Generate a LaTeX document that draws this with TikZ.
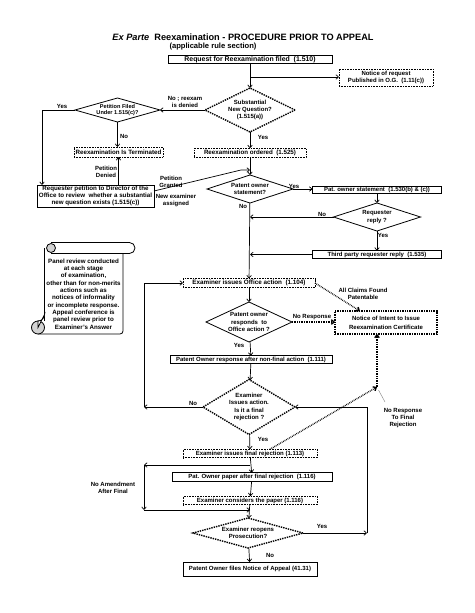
\documentclass[tikz,border=0pt]{standalone}
\usepackage{fontspec}
\setmainfont{Liberation Sans}
\usetikzlibrary{shapes.geometric,arrows.meta,calc}
\newcommand\fsz[2]{\fontsize{#1}{#2}\selectfont\bfseries}
\begin{document}
\begin{tikzpicture}[x=1pt,y=-1pt,
  lab/.style={font=\fsz{6}{7.2}, align=center, inner sep=0pt, outer sep=0pt},
  solidbox/.style={lab, draw, line width=0.8pt},
  dotbox/.style={lab, draw, densely dotted, line width=0.6pt},
  thickdot/.style={lab, draw, densely dotted, line width=1.4pt},
  dia/.style={diamond, lab, draw, line width=0.8pt},
  ddia/.style={diamond, lab, draw, densely dotted, line width=1.4pt},
  arr/.style={line width=0.7pt, -{Straight Barb[length=2.6pt,width=4.6pt]}},
  darr/.style={arr, densely dotted, line width=1.4pt},
  ln/.style={line width=0.8pt}]
\useasboundingbox[fill=white] (0,0) rectangle (474,613);

% titles
\node[lab, font=\fsz{9.2}{11}] (title) at (243,37) {\textit{Ex Parte}\ \ Reexamination - PROCEDURE PRIOR TO APPEAL};
\node[lab, font=\fsz{7.6}{9}] (sub) at (213,46.5) {(applicable rule section)};

% nodes
\node[solidbox, font=\fsz{6.9}{8}, minimum width=164, minimum height=8] (req) at (250,59.5) {Request for Reexamination filed\ \ (1.510)};
\node[dotbox, minimum width=94, minimum height=17] (notice) at (386,77.5) {Notice of request\\Published in O.G.\ \ (1.11(c))};
\node[ddia, aspect=2.05, minimum width=90, minimum height=44] (snq) at (250,110) {Substantial\\New Question?\\(1.515(a))};
\node[dia, font=\fsz{5.6}{6.8}, aspect=3.54, minimum width=85, minimum height=24] (pet) at (117.5,110) {Petition Filed\\Under 1.515(c)?};
\node[dotbox, font=\fsz{6.2}{7.4}, minimum width=89, minimum height=10] (term) at (118.5,152) {Reexamination Is Terminated};
\node[solidbox, font=\fsz{6.2}{7}, minimum width=117, minimum height=22] (reqpet) at (95.5,196) {Requester petition to Director of the\\Office to review\ \ whether a substantial\\new question exists (1.515(c))};
\node[dotbox, font=\fsz{6.2}{7.4}, minimum width=112, minimum height=9.5] (ord) at (250,153) {Reexamination ordered\ \ (1.525)};
\node[dia, aspect=3.07, minimum width=86, minimum height=28] (pos) at (250,189) {Patent owner\\statement?};
\node[solidbox, minimum width=129, minimum height=7.5] (posb) at (377,190) {Pat. owner statement\ \ (1.530(b) \& (c))};
\node[dia, aspect=3.1, minimum width=87, minimum height=28] (rr) at (377,217) {Requester\\reply ?};
\node[solidbox, minimum width=129, minimum height=7.5] (tp) at (377,254.5) {Third party requester reply\ \ (1.535)};
\node[dotbox, font=\fsz{6.3}{7.4}, minimum width=132, minimum height=9] (eoa) at (249,283) {Examiner issues Office action\ \ (1.104)};
\node[thickdot, minimum width=102, minimum height=23] (noi) at (386,322.5) {Notice of Intent to Issue\\[2pt]Reexamination Certificate};
\node[dia, aspect=2.15, minimum width=86, minimum height=40] (resp) at (249,322) {Patent owner\\responds\ \ to\\Office action ?};
\node[solidbox, minimum width=162, minimum height=7.5] (por) at (251,359.5) {Patent Owner response after non-final action\ \ (1.111)};
\node[ddia, aspect=1.67, minimum width=92, minimum height=55] (fin) at (249,407) {Examiner\\Issues action.\\Is it a final\\rejection ?};
\node[dotbox, minimum width=134, minimum height=8.5] (efr) at (250,453.5) {Examiner issues final rejection (1.113)};
\node[solidbox, minimum width=160, minimum height=8.5] (pop) at (252,477) {Pat. Owner paper after final rejection\ \ (1.116)};
\node[dotbox, minimum width=134, minimum height=8.5] (ecp) at (250,500.5) {Examiner considers the paper (1.116)};
\node[ddia, aspect=3.67, minimum width=110, minimum height=30] (reo) at (248,533) {Examiner reopens\\Prosecution?};
\node[solidbox, minimum width=134, minimum height=14] (nap) at (250,569) {Patent Owner files Notice of Appeal (41.31)};

% top part connectors
\draw[arr] (req) -- (snq);
\coordinate (b1) at (250,77);
\draw[arr] (b1) -- (notice.west |- b1);
\draw[arr] (snq.west) -- (pet.east);
\node[lab] (l1) at (185,102) {No ; reexam\\is denied};
\coordinate (c1) at (42,110);
\draw[arr] (pet.west) -- (c1) -- (c1 |- reqpet.north);
\node[lab] (l2) at (62,106) {Yes};
\draw[arr] (pet.south) -- (pet.south |- term.north);
\node[lab] (l3) at (124,136) {No};
\draw[arr] (term.south |- reqpet.north) -- (term.south);
\node[lab] (l4) at (106,172) {Petition\\Denied};
\path (reqpet.east) ++(0,-5) coordinate (g1);
\coordinate (g2) at (241,170);
\coordinate (g3) at (250,170);
\draw[arr] (g1) -- (g2) -- (g3);
\node[lab] (l5) at (171,182) {Petition\\Granted};
\node[lab] (l6) at (176,200.5) {New examiner\\assigned};

\draw[arr] (snq) -- (ord);
\node[lab] (l7) at (263,137) {Yes};
\draw[arr] (ord) -- (pos);
\draw[arr] (pos.east) -- (pos.east -| posb.west);
\node[lab] (l8) at (294,186.5) {Yes};
\draw[arr] (pos) -- (eoa);
\node[lab] (l9) at (243,206.5) {No};
\draw[arr] (posb) -- (rr);
\coordinate (m1) at (250,217);
\draw[arr] (rr.west) -- (m1);
\node[lab] (l10) at (322,214) {No};
\draw[arr] (rr) -- (tp);
\node[lab] (l11) at (383,235) {Yes};
\coordinate (m2) at (250,254.5);
\draw[arr] (tp.west) -- (m2);

% office action
\path (noi.north west) ++(25,0) coordinate (n1);
\draw[darr] (eoa.east) -- (n1);
\node[lab] (l12) at (363,293.5) {All Claims Found\\Patentable};
\draw[arr] (eoa) -- (resp);
\draw[darr] (resp.east) -- (resp.east -| noi.west);
\node[lab] (l13) at (312,317) {No Response};
\draw[arr] (resp) -- (por);
\node[lab] (l14) at (239,345) {Yes};
\draw[arr] (por) -- (fin);
\coordinate (k1) at (144,407);
\coordinate (k2) at (144,283);
\draw[arr] (fin.west) -- (k1);
\draw[arr] (k1) -- (k2) -- (eoa.west);
\node[lab] (l15) at (193,403.5) {No};
\draw[arr] (fin) -- (efr);
\node[lab] (l16) at (263,439) {Yes};

% final rejection
\path (efr.north west) ++(87,0) coordinate (e1);
\coordinate (e2) at (377,387);
\draw[darr] (e1) -- (e2);
\draw[darr] (e2) -- (e2 |- noi.south);
\coordinate (q1) at (385,402);
\coordinate (q2) at (378.5,390);
\draw[gray, line width=0.4pt] (q1) -- (q2);
\node[lab] (l17) at (403,418) {No Response\\To Final\\Rejection};

\draw[arr] (efr) -- (pop);
\coordinate (f1) at (250,465);
\coordinate (f2) at (144,465);
\coordinate (f3) at (144,510);
\coordinate (f4) at (250,510);
\draw[arr] (f1) -- (f2);
\draw[arr] (f2) -- (f3);
\draw[arr] (f3) -- (f4);
\node[lab] (l18) at (113,488) {No Amendment\\After Final};
\draw[arr] (pop) -- (ecp);
\draw[arr] (ecp) -- (reo);
\coordinate (r1) at (367,533);
\coordinate (r2) at (367,407);
\draw[arr] (reo.east) -- (r1);
\draw[arr] (r1) -- (r2) -- (fin.east);
\node[lab] (l19) at (322,526.5) {Yes};
\draw[arr] (reo) -- (nap);
\node[lab] (l20) at (270,555) {No};

% scroll
\draw[ln] (44,248) -- (44,321);
\draw[ln, rounded corners=3pt] (123,253.5) -- (123,334) -- (38,334);
\draw[ln, rounded corners=5.5pt] (51,242.5) -- (135,242.5) -- (135,253.5) -- (51,253.5);
\draw[ln, fill=gray!35] (51,248) circle (4.5);
\draw[ln, fill=gray!35] (38,327.5) circle (6.5);
\draw[ln, fill=white] (38,327.5) -- (38,321) arc (90:0:6.5) -- cycle;
\node[lab, font=\fsz{6.2}{7.33}] (scroll) at (83.5,294) {Panel review conducted\\at each stage\\of examination,\\other than for non-merits\\actions such as\\notices of informality\\or incomplete response.\\Appeal conference is\\panel review prior to\\Examiner's Answer};
\end{tikzpicture}
\end{document}
